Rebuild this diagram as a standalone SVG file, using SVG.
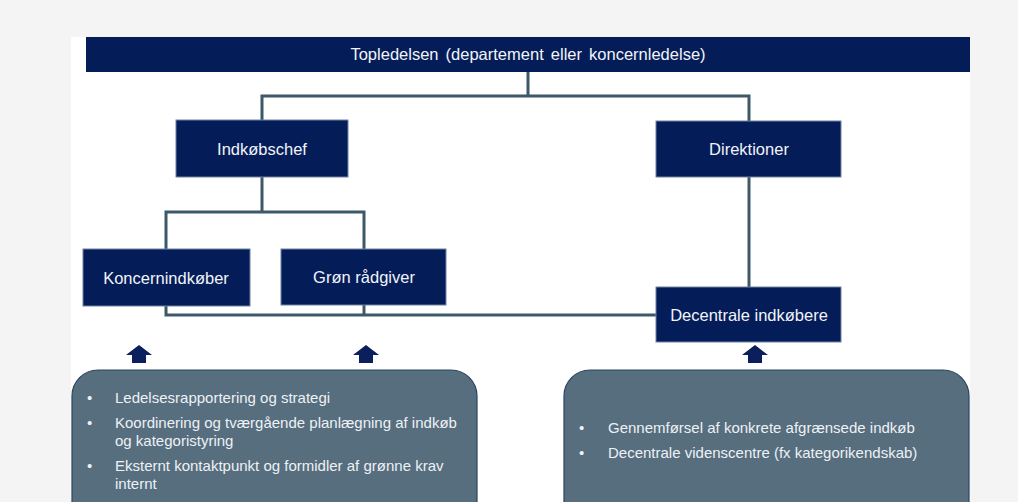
<svg xmlns="http://www.w3.org/2000/svg" width="1018" height="502" viewBox="0 0 1018 502">
<style>
.box{fill:#041d59;stroke:#6f82a6;stroke-width:1}
.lbl{font-family:"Liberation Sans",Arial,sans-serif;font-size:16.5px;fill:#f2f4f8;text-anchor:middle}
.hdr{font-family:"Liberation Sans",Arial,sans-serif;font-size:16.5px;fill:#f2f4f8;text-anchor:middle;word-spacing:2.5px}
.conn{fill:none;stroke:#3d5869;stroke-width:3}
.panel{fill:#566e7e;stroke:#2b4560;stroke-width:1.2}
.txt{font-family:"Liberation Sans",Arial,sans-serif;font-size:15px;fill:#eef1f5}
.arr{fill:#0a1f5c}
</style>
<rect x="0" y="0" width="1018" height="502" fill="#f4f4f4"/>
<rect x="71" y="37" width="899" height="465" fill="#ffffff"/>
<g id="connectors">
<polyline class="conn" points="528,72 528,96"/>
<polyline class="conn" points="262,120 262,96 749,96 749,121"/>
<polyline class="conn" points="262,177 262,212"/>
<polyline class="conn" points="166,249 166,212 364,212 364,249"/>
<polyline class="conn" points="749,177 749,287"/>
<polyline class="conn" points="166,306 166,315 657,315"/>
<polyline class="conn" points="364,305 364,315"/>
</g>
<g id="top">
<rect x="86" y="37" width="884" height="35" fill="#041d59"/>
<text class="hdr" x="528" y="60">Topledelsen (departement eller koncernledelse)</text>
</g>
<g id="indkobschef">
<rect class="box" x="176" y="120" width="172" height="57"/>
<text class="lbl" x="262" y="155">Indkøbschef</text>
</g>
<g id="direktioner">
<rect class="box" x="656" y="121" width="185" height="56"/>
<text class="lbl" x="749" y="155">Direktioner</text>
</g>
<g id="koncernindkober">
<rect class="box" x="83" y="249" width="167" height="57"/>
<text class="lbl" x="166" y="284">Koncernindkøber</text>
</g>
<g id="gron">
<rect class="box" x="281" y="249" width="165" height="56"/>
<text class="lbl" x="364" y="283">Grøn rådgiver</text>
</g>
<g id="decentrale">
<rect class="box" x="656" y="287" width="185" height="55"/>
<text class="lbl" x="749" y="321">Decentrale indkøbere</text>
</g>
<g id="arrows">
<path class="arr" d="M126,355 L139,345 L152,355 L146,355 L146,363 L132,363 L132,355 Z"/>
<path class="arr" d="M353,355 L366,345 L379,355 L373,355 L373,363 L359,363 L359,355 Z"/>
<path class="arr" d="M742,355 L755,345 L768,355 L762,355 L762,363 L748,363 L748,355 Z"/>
</g>
<g id="left-panel">
<rect class="panel" x="72" y="370" width="405" height="160" rx="26" ry="26"/>
<text class="txt" x="87" y="403">•</text>
<text class="txt" x="115" y="403">Ledelsesrapportering og strategi</text>
<text class="txt" x="87" y="428">•</text>
<text class="txt" x="115" y="428">Koordinering og tværgående planlægning af indkøb</text>
<text class="txt" x="115" y="446">og kategoristyring</text>
<text class="txt" x="87" y="471">•</text>
<text class="txt" x="115" y="471">Eksternt kontaktpunkt og formidler af grønne krav</text>
<text class="txt" x="115" y="489">internt</text>
</g>
<g id="right-panel">
<rect class="panel" x="564" y="370" width="405" height="160" rx="26" ry="26"/>
<text class="txt" x="579" y="433">•</text>
<text class="txt" x="608" y="433">Gennemførsel af konkrete afgrænsede indkøb</text>
<text class="txt" x="579" y="458">•</text>
<text class="txt" x="608" y="458">Decentrale videnscentre (fx kategorikendskab)</text>
</g>
</svg>
